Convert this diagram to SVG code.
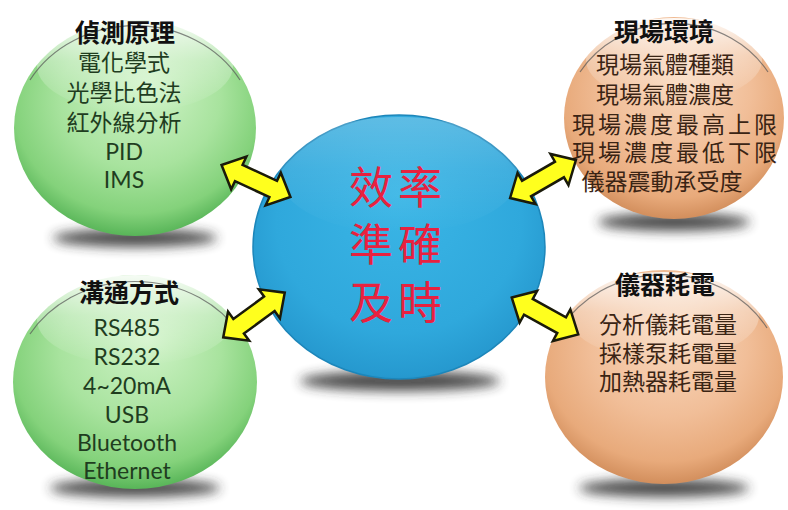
<svg xmlns="http://www.w3.org/2000/svg" width="788" height="510" viewBox="0 0 788 510">
<defs>
  <radialGradient id="gGreen" cx="50%" cy="40%" r="60%" fx="55%" fy="30%">
    <stop offset="0" stop-color="#d0f3c8"/>
    <stop offset="0.55" stop-color="#a8e39e"/>
    <stop offset="0.85" stop-color="#84d27b"/>
    <stop offset="1" stop-color="#58b558"/>
  </radialGradient>
  <radialGradient id="gOrange" cx="50%" cy="40%" r="60%" fx="55%" fy="30%">
    <stop offset="0" stop-color="#f9d9bf"/>
    <stop offset="0.55" stop-color="#f1be98"/>
    <stop offset="0.85" stop-color="#e8aa7b"/>
    <stop offset="1" stop-color="#d28e5c"/>
  </radialGradient>
  <radialGradient id="gBlue" cx="50%" cy="45%" r="60%" fx="50%" fy="30%">
    <stop offset="0" stop-color="#3bb6e6"/>
    <stop offset="0.7" stop-color="#2fa8dc"/>
    <stop offset="0.92" stop-color="#2699cf"/>
    <stop offset="1" stop-color="#1a7fb2"/>
  </radialGradient>
  <linearGradient id="gloss" x1="0" y1="0" x2="0" y2="1">
    <stop offset="0" stop-color="#ffffff" stop-opacity="0.9"/>
    <stop offset="0.45" stop-color="#ffffff" stop-opacity="0.35"/>
    <stop offset="1" stop-color="#ffffff" stop-opacity="0"/>
  </linearGradient>
  <filter id="blur" x="-30%" y="-200%" width="160%" height="500%">
    <feGaussianBlur stdDeviation="6"/>
  </filter>
  <polygon id="dbl" points="-38,0 -19,-18 -19,-9 19,-9 19,-18 38,0 19,18 19,9 -19,9 -19,18"/>
</defs>
<style>
  .shadow{fill:#2a2a2a;opacity:0.85;filter:url(#blur)}
  .rim{fill:none;stroke:#555;stroke-width:1.2;opacity:0.7}
  .arrow{fill:#ffff1e;stroke:#1a1a0a;stroke-width:2.5;stroke-linejoin:miter}
  .title{font-family:Lato,"Noto Sans CJK TC",sans-serif;font-weight:bold;font-size:25px;fill:#111;text-anchor:middle}
  .gtxt{font-family:Lato,"Noto Sans CJK TC",sans-serif;font-size:23px;fill:#1f3d1f;text-anchor:middle}
  .otxt{font-family:Lato,"Noto Sans CJK TC",sans-serif;font-size:23px;fill:#3a2414;text-anchor:middle}
  .ctxt{font-family:Lato,"Noto Sans CJK TC",sans-serif;font-size:44px;fill:#e8213f;text-anchor:middle;letter-spacing:5px}
</style>

<g id="shadows">
  <ellipse class="shadow" cx="135" cy="238" rx="82" ry="9"/>
  <ellipse class="shadow" cx="135" cy="488" rx="85" ry="9"/>
  <ellipse class="shadow" cx="674" cy="222" rx="76" ry="9"/>
  <ellipse class="shadow" cx="664" cy="488" rx="85" ry="9"/>
  <ellipse class="shadow" cx="400" cy="381" rx="100" ry="10"/>
</g>

<g id="node-center">
  <ellipse cx="399" cy="247" rx="146" ry="132" fill="url(#gBlue)" stroke="#1c86ba" stroke-width="1.5"/>
  <ellipse cx="399" cy="175" rx="120" ry="58" fill="url(#gloss)" opacity="0.25"/>
  <text class="ctxt" x="398" y="204">效率<tspan x="398" y="261">準確</tspan><tspan x="398" y="319">及時</tspan></text>
</g>

<g id="node-detect">
  <ellipse cx="135" cy="128" rx="121" ry="108" fill="url(#gGreen)"/>
  <ellipse cx="135" cy="66" rx="98" ry="46" fill="url(#gloss)"/>
  <path class="rim" d="M 30 80 A 121 108 0 0 1 240 80"/>
  <text class="title" x="125" y="42">偵測原理</text>
  <text class="gtxt" x="124" y="71">電化學式<tspan x="124" y="101">光學比色法</tspan><tspan x="124" y="131">紅外線分析</tspan><tspan x="124" y="160">PID</tspan><tspan x="124" y="188">IMS</tspan></text>
</g>

<g id="node-comm">
  <ellipse cx="135" cy="382" rx="122" ry="107" fill="url(#gGreen)"/>
  <ellipse cx="135" cy="320" rx="98" ry="45" fill="url(#gloss)"/>
  <path class="rim" d="M 30 334 A 122 107 0 0 1 240 334"/>
  <text class="title" x="129" y="302">溝通方式</text>
  <text class="gtxt" x="127" y="336">RS485<tspan x="127" y="365">RS232</tspan><tspan x="127" y="394">4~20mA</tspan><tspan x="127" y="423">USB</tspan><tspan x="127" y="451">Bluetooth</tspan><tspan x="127" y="479">Ethernet</tspan></text>
</g>

<g id="node-site">
  <ellipse cx="674" cy="118" rx="110" ry="101" fill="url(#gOrange)"/>
  <ellipse cx="674" cy="60" rx="88" ry="42" fill="url(#gloss)"/>
  <path class="rim" d="M 580 72 A 110 101 0 0 1 768 72"/>
  <text class="title" x="664" y="41">現場環境</text>
  <text class="otxt" x="665" y="73">現場氣體種類<tspan x="665" y="103">現場氣體濃度</tspan><tspan x="676" y="133" letter-spacing="3">現場濃度最高上限</tspan><tspan x="676" y="161" letter-spacing="3">現場濃度最低下限</tspan><tspan x="662" y="190">儀器震動承受度</tspan></text>
</g>

<g id="node-power">
  <ellipse cx="664" cy="377" rx="119" ry="107" fill="url(#gOrange)"/>
  <ellipse cx="664" cy="316" rx="95" ry="44" fill="url(#gloss)"/>
  <path class="rim" d="M 561 328 A 119 107 0 0 1 767 328"/>
  <text class="title" x="665" y="294">儀器耗電</text>
  <text class="otxt" x="668" y="333">分析儀耗電量<tspan x="668" y="362">採樣泵耗電量</tspan><tspan x="668" y="390">加熱器耗電量</tspan></text>
</g>

<g id="connectors">
  <use href="#dbl" class="arrow" transform="translate(256,181) rotate(25)"/>
  <use href="#dbl" class="arrow" transform="translate(543,179) rotate(-30)"/>
  <use href="#dbl" class="arrow" transform="translate(254,315) rotate(-36)"/>
  <use href="#dbl" class="arrow" transform="translate(545,316) rotate(29)"/>
</g>
</svg>
